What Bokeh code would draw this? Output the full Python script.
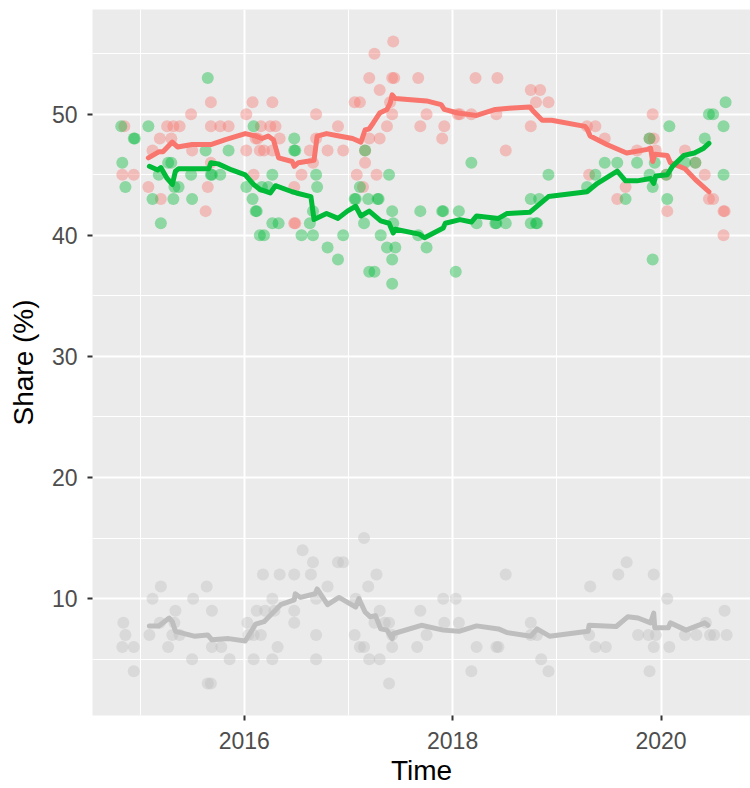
from bokeh.plotting import figure
from bokeh.models import Range1d, FixedTicker
from bokeh.embed import file_html
from bokeh.resources import INLINE

# ---------------- data (decimal years, share in %) ----------------
red_t = [2014.85, 2014.83, 2014.94, 2015.08, 2015.12, 2015.19, 2015.30, 2015.26, 2015.32, 2015.38,
         2015.49, 2015.50, 2015.68, 2015.68, 2015.77, 2015.85, 2015.68, 2015.65, 2015.63, 2015.20,
         2016.02, 2016.08, 2016.02, 2016.09, 2016.11, 2016.15,
         2016.27, 2016.16, 2016.25, 2016.30, 2016.34, 2016.13, 2016.19, 2016.27, 2016.69, 2016.69,
         2016.63, 2016.80, 2016.90, 2016.95, 2016.55, 2016.48, 2016.48, 2016.49, 2016.66, 2017.06,
         2017.11, 2017.25, 2017.43, 2017.20, 2017.30, 2017.42, 2017.44, 2017.67, 2017.40, 2017.42,
         2017.37, 2017.20, 2017.30, 2017.16, 2017.16, 2017.08, 2017.27, 2017.14, 2017.69,
         2018.22, 2018.43, 2018.75, 2018.84, 2018.80, 2018.92, 2017.75, 2018.05, 2018.07, 2018.18,
         2018.42, 2017.92, 2018.75, 2017.90, 2018.51,
         2019.29, 2019.37, 2019.46, 2019.31, 2019.66, 2019.58, 2019.77, 2019.92, 2019.93, 2019.95,
         2020.06, 2020.23, 2020.42, 2020.46, 2020.50, 2020.60, 2020.61, 2020.60, 2019.89, 2020.05,
         2020.33]
red_v = [49, 45, 45, 44, 47, 48, 48, 49, 49, 49,
         50, 47, 51, 49, 49, 49, 46, 44, 42, 43,
         50, 51, 47, 45, 48, 47,
         51, 49, 49, 49, 48, 48, 47, 47, 50, 48,
         47, 47, 49, 47, 45, 44, 41, 41, 46, 51,
         51, 55, 56, 53, 52, 53, 53, 53, 51, 50,
         49, 48, 48, 47, 46, 45, 45, 44, 49,
         53, 53, 52, 52, 51, 51, 50, 50, 50, 50,
         50, 49, 49, 48, 47,
         49, 49, 48, 45, 44, 43, 47, 50, 48, 47,
         42, 47, 45, 43, 43, 42, 42, 40, 48, 45,
         46]

green_t = [2014.82, 2015.08, 2014.94, 2014.95, 2014.83, 2014.86, 2015.27, 2015.30, 2015.18, 2015.12,
           2015.32, 2015.37, 2015.33, 2015.20, 2015.49, 2015.50, 2015.63, 2015.65, 2015.68, 2015.69,
           2015.77, 2015.85, 2016.09, 2016.02, 2016.08, 2016.11, 2016.15,
           2016.48, 2016.48, 2016.49, 2016.27, 2016.69, 2016.70, 2016.17, 2016.23, 2016.12, 2016.27,
           2016.33, 2016.63, 2016.66, 2016.19, 2016.55, 2016.66, 2016.95, 2016.80, 2016.90, 2017.16,
           2017.11, 2017.06, 2017.07, 2017.19, 2017.28, 2017.29, 2017.39, 2017.42, 2017.15, 2017.43,
           2017.31, 2017.37, 2017.45, 2017.42, 2017.20, 2017.25, 2017.42, 2017.69,
           2017.90, 2017.91, 2018.06, 2018.18, 2018.23, 2018.41, 2018.42, 2018.51, 2017.67, 2017.75,
           2018.03, 2018.75, 2018.83, 2018.75, 2018.80, 2018.81, 2018.92,
           2019.29, 2019.37, 2019.46, 2019.58, 2019.66, 2019.77, 2019.89, 2019.89, 2019.92, 2019.94,
           2019.92, 2020.06, 2020.05, 2020.08, 2020.23, 2020.33, 2020.42, 2020.46, 2020.50, 2020.62,
           2020.60, 2020.60]
green_v = [49, 49, 48, 48, 46, 44, 46, 46, 45, 43,
           43, 44, 44, 41, 45, 43, 47, 53, 45, 45,
           45, 47, 49, 44, 43, 42, 40,
           48, 47, 47, 45, 45, 44, 44, 44, 42, 41,
           41, 41, 42, 40, 40, 40, 40, 39, 38, 47,
           44, 43, 43, 43, 43, 43, 45, 42, 41, 41,
           40, 39, 39, 38, 37, 37, 36, 42,
           42, 42, 42, 46, 41, 41, 41, 41, 40, 39,
           37, 43, 43, 41, 41, 41, 45,
           44, 45, 46, 46, 43, 46, 48, 45, 44, 46,
           38, 43, 45, 49, 46, 46, 48, 50, 50, 51,
           49, 45]

grey_t = [2014.84, 2014.86, 2014.83, 2014.94, 2014.94, 2015.09, 2015.12, 2015.20, 2015.19, 2015.27,
          2015.31, 2015.34, 2015.38, 2015.33, 2015.51, 2015.50, 2015.64, 2015.69, 2015.69, 2015.78,
          2015.65, 2015.68, 2015.86, 2016.03, 2016.04, 2016.09, 2016.09, 2016.12, 2016.16, 2016.18,
          2016.20, 2016.27, 2016.27, 2016.29, 2016.32, 2016.34, 2016.48, 2016.48, 2016.48, 2016.56,
          2016.64, 2016.66, 2016.69, 2016.69, 2016.69, 2016.80, 2016.90, 2016.95, 2017.07, 2017.06,
          2017.11, 2017.15, 2017.15, 2017.19, 2017.27, 2017.20, 2017.30, 2017.30, 2017.25, 2017.35,
          2017.39, 2017.42, 2017.42, 2017.39, 2017.66,
          2017.69, 2017.75, 2017.91, 2018.03, 2017.92, 2018.06, 2018.23, 2018.18, 2018.42, 2018.44,
          2018.51, 2018.75, 2018.75, 2018.81, 2018.85, 2018.92, 2019.32, 2019.31, 2019.37, 2019.47,
          2019.59, 2019.67, 2019.78, 2019.88, 2019.89, 2019.93, 2019.93, 2019.95, 2020.06, 2020.08,
          2020.23, 2020.34, 2020.43, 2020.47, 2020.51, 2020.61, 2020.63]
grey_v = [8, 7, 6, 6, 4, 7, 10, 11, 8, 6,
          7, 9, 7, 8, 10, 5, 11, 9, 6, 6,
          3, 3, 5, 8, 7, 7, 5, 9, 7, 12,
          9, 10, 5, 9, 6, 12, 12, 9, 8, 14,
          12, 13, 10, 7, 5, 11, 13, 13, 10, 7,
          6, 6, 15, 11, 12, 5, 9, 5, 8, 8,
          8, 7, 6, 3, 6,
          9, 7, 10, 10, 8, 8, 6, 4, 6, 6,
          12, 8, 7, 7, 5, 4, 11, 7, 6, 6,
          12, 13, 7, 7, 4, 12, 6, 7, 10, 6,
          7, 7, 8, 7, 7, 9, 7]

# smoothed (rolling average) lines
red_line_t = [2015.08, 2015.18, 2015.22, 2015.31, 2015.36, 2015.50, 2015.68, 2015.82, 2016.01, 2016.11,
              2016.17, 2016.23, 2016.28, 2016.33, 2016.46, 2016.48, 2016.52, 2016.67, 2016.70, 2016.79,
              2016.91, 2017.04, 2017.12, 2017.16, 2017.20, 2017.24, 2017.30, 2017.37, 2017.40, 2017.42,
              2017.45, 2017.75, 2017.89, 2017.92, 2018.05, 2018.23, 2018.41, 2018.54, 2018.74, 2018.78,
              2018.86, 2018.95, 2019.27, 2019.29, 2019.32, 2019.48, 2019.67, 2019.87, 2019.90, 2019.92,
              2019.94, 2020.06, 2020.09, 2020.23, 2020.33, 2020.46]
red_line_v = [46.4, 46.9, 46.9, 47.7, 47.3, 47.5, 47.5, 47.9, 48.4, 48.2,
              48.0, 48.2, 47.9, 46.4, 46.1, 45.7, 46.0, 46.2, 48.2, 48.4,
              48.2, 48.0, 47.7, 48.7, 48.8, 49.3, 50.1, 50.4, 50.9, 51.6,
              51.3, 51.1, 50.8, 50.4, 50.1, 49.9, 50.4, 50.5, 50.6, 50.2,
              49.5, 49.5, 49.0, 48.8, 48.2, 47.5, 46.8, 47.1, 47.2, 46.1,
              46.7, 46.6, 46.0, 45.5, 44.6, 43.6]

green_line_t = [2015.09, 2015.17, 2015.20, 2015.26, 2015.31, 2015.34, 2015.37, 2015.50, 2015.66, 2015.68,
                2015.75, 2015.88, 2016.01, 2016.09, 2016.15, 2016.25, 2016.30, 2016.46, 2016.50, 2016.64,
                2016.67, 2016.79, 2016.90, 2016.99, 2017.07, 2017.12, 2017.20, 2017.31, 2017.39, 2017.43,
                2017.45, 2017.68, 2017.73, 2017.91, 2017.93, 2018.07, 2018.18, 2018.23, 2018.44, 2018.52,
                2018.74, 2018.92, 2019.29, 2019.39, 2019.58, 2019.66, 2019.77, 2019.90, 2019.93, 2019.95,
                2020.06, 2020.11, 2020.22, 2020.32, 2020.41, 2020.46]
green_line_v = [45.7, 45.4, 45.6, 44.7, 44.2, 45.3, 45.5, 45.5, 45.5, 46.0,
                45.9, 45.4, 45.0, 44.2, 43.8, 43.5, 44.1, 43.6, 43.5, 43.2,
                41.3, 41.8, 41.4, 42.0, 42.4, 41.6, 42.0, 41.2, 41.0, 40.2,
                40.5, 40.1, 39.8, 40.6, 41.0, 41.3, 41.1, 41.6, 41.4, 41.8,
                41.9, 43.2, 43.6, 44.3, 45.3, 44.5, 44.5, 44.7, 44.3, 44.9,
                45.0, 45.7, 46.6, 46.8, 47.2, 47.6]

grey_line_t = [2015.09, 2015.18, 2015.28, 2015.31, 2015.34, 2015.52, 2015.65, 2015.69, 2015.85, 2016.01,
               2016.11, 2016.19, 2016.27, 2016.35, 2016.48, 2016.49, 2016.54, 2016.68, 2016.70, 2016.80,
               2016.91, 2017.07, 2017.10, 2017.16, 2017.21, 2017.26, 2017.31, 2017.37, 2017.42, 2017.43,
               2017.70, 2017.91, 2018.06, 2018.23, 2018.44, 2018.52, 2018.75, 2018.81, 2018.93, 2019.30,
               2019.31, 2019.57, 2019.68, 2019.78, 2019.90, 2019.93, 2019.94, 2020.07, 2020.09, 2020.24,
               2020.42, 2020.45]
grey_line_v = [7.75, 7.75, 8.4, 8.1, 7.3, 6.9, 7.0, 6.6, 6.7, 6.5,
               7.9, 8.1, 8.8, 9.5, 9.9, 10.4, 10.1, 10.4, 10.8, 9.5,
               10.1, 9.3, 10.0, 8.9, 8.5, 8.6, 7.5, 7.4, 6.7, 7.1,
               7.8, 7.4, 7.3, 7.75, 7.5, 7.2, 6.9, 7.5, 6.9, 7.3,
               7.8, 7.7, 8.5, 8.4, 8.0, 8.8, 7.6, 7.6, 8.0, 7.4,
               8.0, 7.8]

x_ticks = [2016, 2018, 2020]
x_minor = [2015, 2017, 2019]
y_ticks = [10, 20, 30, 40, 50]
y_minor = [5, 15, 25, 35, 45, 55]

RED = "#F8766D"
GREEN = "#00BA38"
GREY = "#BEBEBE"

p = figure(width=750, height=788, output_backend="svg", toolbar_location=None,
           x_range=Range1d(2014.544, 2014.544 + 658 / 104.2),
           y_range=Range1d(0.35, 58.65),
           min_border_left=92, min_border_right=0, min_border_top=9, min_border_bottom=70)

p.background_fill_color = "#EBEBEB"
p.border_fill_color = "white"
p.outline_line_color = None

for t, v, c in [(red_t, red_v, RED), (green_t, green_v, GREEN), (grey_t, grey_v, GREY)]:
    p.scatter(x=t, y=v, size=12, fill_color=c, fill_alpha=0.4, line_color=None)

for t, v, c in [(red_line_t, red_line_v, RED), (green_line_t, green_line_v, GREEN),
                (grey_line_t, grey_line_v, GREY)]:
    p.line(x=t, y=v, line_color=c, line_width=5, line_join="round", line_cap="round")

p.xaxis.ticker = FixedTicker(ticks=x_ticks, minor_ticks=x_minor)
p.yaxis.ticker = FixedTicker(ticks=y_ticks, minor_ticks=y_minor)

for g in (p.xgrid, p.ygrid):
    g.grid_line_color = "white"
    g.grid_line_width = 2
    g.minor_grid_line_color = "white"
    g.minor_grid_line_width = 1

for ax in (p.xaxis, p.yaxis):
    ax.axis_line_color = None
    ax.major_tick_line_color = "#333333"
    ax.major_tick_line_width = 2
    ax.major_tick_in = 0
    ax.major_tick_out = 5
    ax.minor_tick_line_color = None
    ax.major_label_text_font = "Liberation Sans"
    ax.major_label_text_font_size = "23px"
    ax.major_label_text_color = "#4D4D4D"
    ax.axis_label_text_font = "Liberation Sans"
    ax.axis_label_text_font_size = "28px"
    ax.axis_label_text_font_style = "normal"
    ax.axis_label_text_color = "black"

p.xaxis.axis_label = "Time"
p.yaxis.axis_label = "Share (%)"
p.xaxis.major_label_standoff = 11
p.xaxis.axis_label_standoff = 3
p.yaxis.major_label_standoff = 10
p.yaxis.axis_label_standoff = 10

open("out.html", "w").write(file_html(p, INLINE))
